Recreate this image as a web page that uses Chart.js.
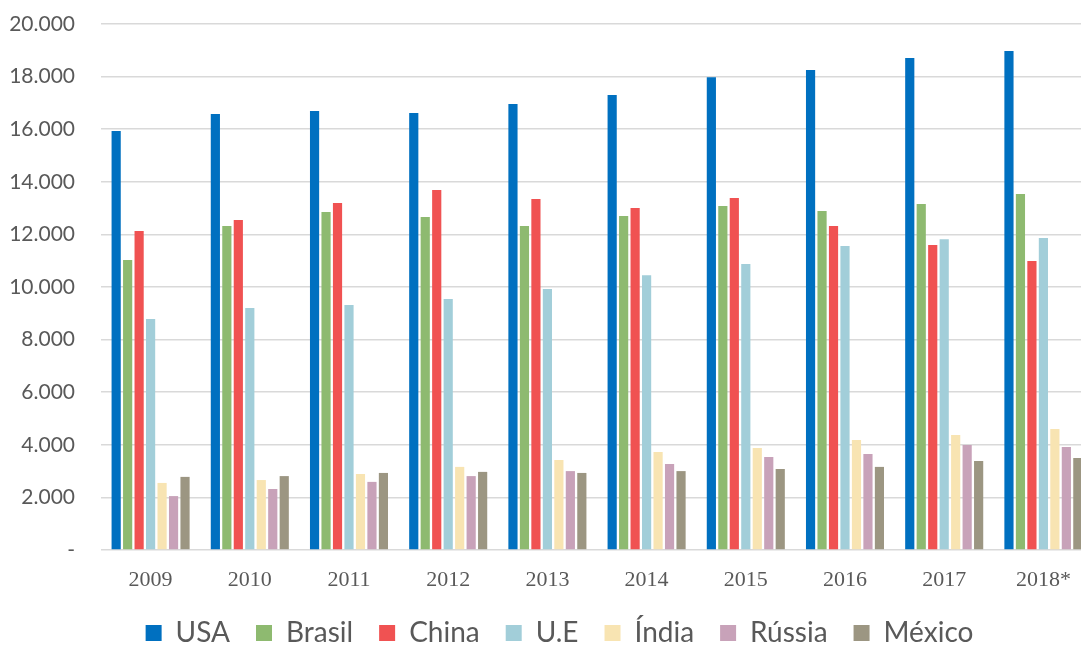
<!DOCTYPE html>
<html>
<head>
<meta charset="utf-8">
<script src="https://cdn.jsdelivr.net/npm/chart.js@4"></script>
<style>
  html, body { margin: 0; padding: 0; background: #fff; overflow: hidden; }
  #wrap { width: 1093px; height: 646px; }
</style>
</head>
<body>
<div id="wrap"><canvas id="myChart"></canvas></div>
<script>
"use strict"

const years = ["2009", "2010", "2011", "2012", "2013", "2014", "2015", "2016", "2017", "2018*"];

const usa    = [15930, 16580, 16690, 16620, 16960, 17300, 17980, 18250, 18710, 18970];
const brasil = [11030, 12320, 12850, 12660, 12320, 12700, 13080, 12890, 13160, 13540];
const china  = [12130, 12550, 13190, 13690, 13350, 13000, 13380, 12320, 11600, 10990];
const ue     = [8780, 9200, 9320, 9540, 9920, 10450, 10870, 11560, 11820, 11860];
const india  = [2550, 2660, 2890, 3160, 3420, 3730, 3880, 4180, 4370, 4600];
const russia = [2050, 2320, 2590, 2810, 3000, 3270, 3540, 3650, 3990, 3920];
const mexico = [2780, 2810, 2930, 2970, 2930, 3000, 3080, 3160, 3380, 3500];

const seriesNames = ["USA", "Brasil", "China", "U.E", "Índia", "Rússia", "México"];
const seriesColors = ["#0070C0", "#8EBA70", "#F05252", "#A2CED9", "#F8E4B2", "#C8A2B9", "#9C9682"];

const yTicks = [0, 2000, 4000, 6000, 8000, 10000, 12000, 14000, 16000, 18000, 20000];

const allSeries = [usa, brasil, china, ue, india, russia, mexico];

const ctx = document.getElementById('myChart');

// legend: fixed height, and nudged right to sit where the reference has it
const legendTweak = {
    id: 'legendTweak',
    beforeInit(chart) {
        const fit = chart.legend.fit;
        chart.legend.fit = function () {
            fit.bind(chart.legend)();
            this.height = 50;
        };
    },
    afterLayout(chart) {
        chart.legend.left += 13;
        chart.legend.right += 13;
    }
};

new Chart(ctx, {
    type: 'bar',
    data: {
        labels: years,
        datasets: allSeries.map((vals, i) => ({
            label: seriesNames[i],
            data: vals,
            backgroundColor: seriesColors[i],
            borderWidth: 0,
            barPercentage: 0.8,
            categoryPercentage: 0.81,
        }))
    },
    options: {
        responsive: true,
        maintainAspectRatio: false,
        animation: false,
        layout: {
            padding: { top: 24, right: 0, bottom: 3, left: 0 }
        },
        plugins: {
            tooltip: { enabled: false },
            legend: {
                position: 'bottom',
                labels: {
                    boxWidth: 16,
                    boxHeight: 16,
                    padding: 26,
                    color: '#595959',
                    font: { family: 'Lato', size: 28 },
                }
            }
        },
        scales: {
            x: {
                grid: { display: false },
                border: { display: false },
                afterFit: axis => { axis.height = 43; },
                ticks: {
                    color: '#595959',
                    padding: 9,
                    font: { family: 'Liberation Serif', size: 22 },
                }
            },
            y: {
                min: 0,
                max: 20000,
                afterBuildTicks: axis => {
                    axis.ticks = yTicks.map(v => ({ value: v }));
                },
                afterFit: axis => { axis.width = 101; },
                border: { display: false },
                grid: {
                    color: '#D9D9D9',
                    lineWidth: 1.6,
                    drawTicks: true,
                    tickLength: 24,
                    tickColor: 'rgba(0,0,0,0)',
                },
                ticks: {
                    color: '#595959',
                    padding: 2,
                    font: { family: 'Lato', size: 21 },
                    callback: v => v === 0 ? '-' : v.toLocaleString('de-DE'),
                }
            }
        }
    },
    plugins: [legendTweak]
})
</script>
</body>
</html>
